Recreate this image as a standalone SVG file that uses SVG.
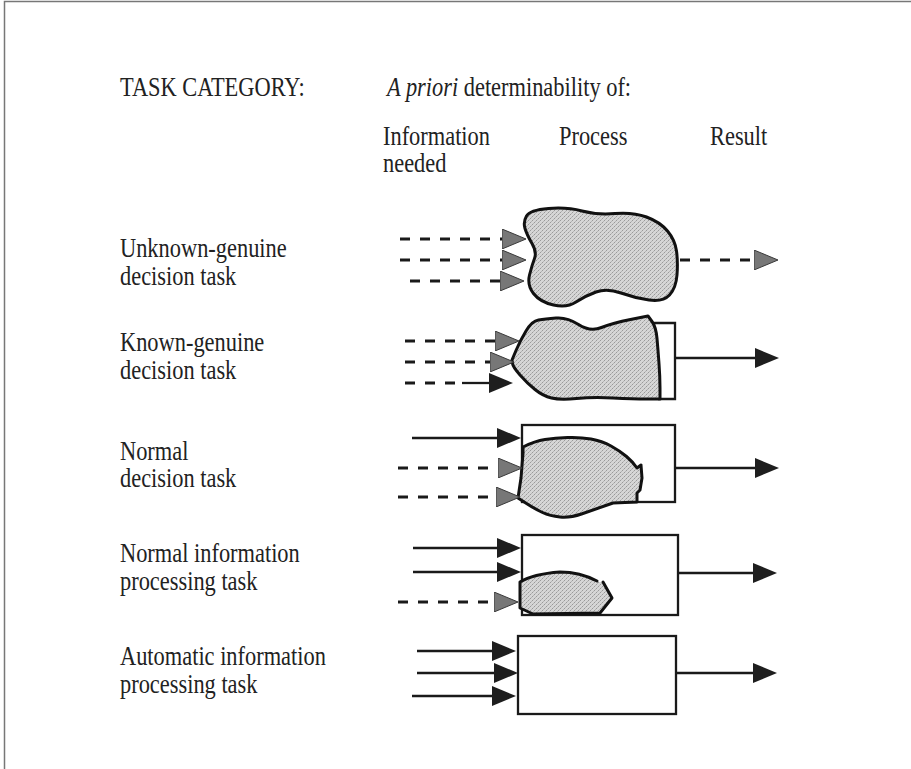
<svg xmlns="http://www.w3.org/2000/svg" width="911" height="769" viewBox="0 0 911 769">
<style>
  .t { font-family: "Liberation Serif", "Times New Roman", serif; font-size: 27px; fill: #222; }
  .i { font-style: italic; }
  .ln { stroke: #1a1a1a; stroke-width: 2.3; fill: none; }
  .ds { stroke: #1a1a1a; stroke-width: 3; fill: none; stroke-dasharray: 10 10; }
  .ag { marker-end: url(#ag); }
  .ab { marker-end: url(#ab); }
  .blob { fill: url(#stip); stroke: #111; stroke-width: 3; stroke-linejoin: round; }
  .bfill { fill: url(#stip); stroke: none; }
  .bline { fill: none; stroke: #111; stroke-width: 3; stroke-linejoin: round; stroke-linecap: round; }
  .box { fill: #fff; stroke: #1a1a1a; stroke-width: 2.3; }
  .frame { stroke: #777; stroke-width: 1.5; fill: none; }
</style>
<defs>
  <pattern id="stip" width="4" height="4" patternUnits="userSpaceOnUse">
    <rect width="4" height="4" fill="#d6d6d6"/>
    <rect x="0" y="0" width="1" height="1" fill="#9a9a9a"/>
    <rect x="2" y="2" width="1" height="1" fill="#9a9a9a"/>
    <rect x="1" y="3" width="1" height="1" fill="#b5b5b5"/>
    <rect x="3" y="1" width="1" height="1" fill="#b5b5b5"/>
  </pattern>
  <marker id="ag" viewBox="0 0 24 20" refX="0" refY="10" markerWidth="24" markerHeight="20" markerUnits="userSpaceOnUse" orient="auto">
    <path d="M0,0 L24,10 L0,20 Z" fill="#777" stroke="#3a3a3a" stroke-width="1"/>
  </marker>
  <marker id="ab" viewBox="0 0 24 20" refX="0" refY="10" markerWidth="24" markerHeight="20" markerUnits="userSpaceOnUse" orient="auto">
    <path d="M0,0 L24,10 L0,20 Z" fill="#1e1e1e"/>
  </marker>
</defs>

<path class="frame" d="M4.5,769 L4.5,1.5 L911,1.5"/>

<g id="headers">
  <text class="t" transform="translate(120,96) scale(0.83,1)">TASK CATEGORY:</text>
  <text class="t" transform="translate(387,96) scale(0.83,1)"><tspan class="i">A priori</tspan> determinability of:</text>
  <text class="t" transform="translate(383,145) scale(0.83,1)">Information</text>
  <text class="t" transform="translate(383,172) scale(0.83,1)">needed</text>
  <text class="t" transform="translate(559,145) scale(0.83,1)">Process</text>
  <text class="t" transform="translate(710,145) scale(0.83,1)">Result</text>
</g>

<g id="labels">
  <text class="t" transform="translate(120,257) scale(0.83,1)">Unknown-genuine</text>
  <text class="t" transform="translate(120,285) scale(0.83,1)">decision task</text>
  <text class="t" transform="translate(120,351) scale(0.83,1)">Known-genuine</text>
  <text class="t" transform="translate(120,379) scale(0.83,1)">decision task</text>
  <text class="t" transform="translate(120,460) scale(0.83,1)">Normal</text>
  <text class="t" transform="translate(120,487) scale(0.83,1)">decision task</text>
  <text class="t" transform="translate(120,562) scale(0.83,1)">Normal information</text>
  <text class="t" transform="translate(120,590) scale(0.83,1)">processing task</text>
  <text class="t" transform="translate(120,665) scale(0.83,1)">Automatic information</text>
  <text class="t" transform="translate(120,693) scale(0.83,1)">processing task</text>
</g>

<g id="node-unknown-genuine">
  <path class="blob" d="M525,228.5 Q523,222 526.5,216 Q530,210 548.5,208.5 Q567,207 582,211 Q597,215 615,213.5 Q633,212 646.5,217 Q660,222 667.5,231 Q675,240 676.5,251 Q678,262 677,275 Q676,288 669.5,295 Q663,302 649,300 Q635,298 621,293 Q607,288 596,292 Q585,296 576,302 Q567,308 553.5,305 Q540,302 533.5,293.5 Q527,285 529.5,275 Q532,265 534.5,258.5 Q537,252 532,243.5 Q527,235 525,228.5 Z"/>
</g>

<g id="node-known-genuine">
  <polyline class="box" points="653,323 675,323 675,399 658,399" style="fill:none"/>
  <path class="blob" d="M512.5,363.5 L512,360 L516,350.5 Q520,341 526,331 Q532,321 538.5,320 Q545,319 556,318 Q567,317 578.5,324.5 Q590,332 601.5,327.5 Q613,323 630.5,319.5 L648,316 L652,321.5 Q656,327 657,338.5 Q658,350 659,363.5 Q660,377 660,388 L660,399 L646.5,399 Q633,399 613,398 Q593,397 576.5,398.5 Q560,400 551.5,398 Q543,396 535,389.5 Q527,383 520,375 Q513,367 512.5,363.5 Z"/>
</g>

<g id="node-normal-decision">
  <rect class="box" x="522" y="425" width="153" height="77"/>
  <path class="blob" d="M523,453.5 L523,447 Q535,441 545,439.5 Q555,438 567.5,437.5 Q580,437 591,439 Q602,441 611,446 Q620,451 626.5,456.5 Q633,462 637,468 L641,465 L642,478 L640,490 L637,493 L637,502 L613,503 Q593,510 581.5,514 Q570,518 560,517 Q550,516 542.5,512.5 Q535,509 526.5,503.5 L518,498 L521,478 Z"/>
</g>

<g id="node-normal-information">
  <rect class="box" x="522" y="535" width="156" height="80"/>
  <path class="bfill" d="M520,582 Q533,575 560,572 Q580,572 597,582 L603,582 L612,598 L600,613 L533,614 L520,608 Z"/>
  <path class="bline" d="M597,581 Q580,572 560,572 Q533,574 520,582 L520,608 L533,614 L600,613 L612,598 L603,582"/>
</g>

<g id="node-automatic">
  <rect class="box" x="518" y="636" width="158" height="78"/>
</g>

<g id="connectors">
  <line class="ds ag" x1="400" y1="239" x2="502" y2="239"/>
  <line class="ds ag" x1="400" y1="260" x2="502" y2="260"/>
  <line class="ds ag" x1="410" y1="281" x2="500" y2="281"/>
  <line class="ds ag" x1="680" y1="260" x2="754" y2="260"/>
  <line class="ds ag" x1="405" y1="341" x2="495" y2="341"/>
  <line class="ds ag" x1="405" y1="362" x2="490" y2="362"/>
  <line class="ds" x1="405" y1="383" x2="462" y2="383"/>
  <line class="ln ab" x1="462" y1="383" x2="489" y2="383"/>
  <line class="ln ab" x1="675" y1="358" x2="755" y2="358"/>
  <line class="ln ab" x1="412" y1="438" x2="497" y2="438"/>
  <line class="ds ag" x1="398" y1="468" x2="498" y2="468"/>
  <line class="ds ag" x1="398" y1="497" x2="496" y2="497"/>
  <line class="ln ab" x1="675" y1="468" x2="755" y2="468"/>
  <line class="ln ab" x1="413" y1="548" x2="497" y2="548"/>
  <line class="ln ab" x1="413" y1="572" x2="497" y2="572"/>
  <line class="ds ag" x1="398" y1="602" x2="494" y2="602"/>
  <line class="ln ab" x1="678" y1="573" x2="753" y2="573"/>
  <line class="ln ab" x1="417" y1="651" x2="492" y2="651"/>
  <line class="ln ab" x1="417" y1="673" x2="494" y2="673"/>
  <line class="ln ab" x1="412" y1="696" x2="492" y2="696"/>
  <line class="ln ab" x1="676" y1="673" x2="753" y2="673"/>
</g>
</svg>
